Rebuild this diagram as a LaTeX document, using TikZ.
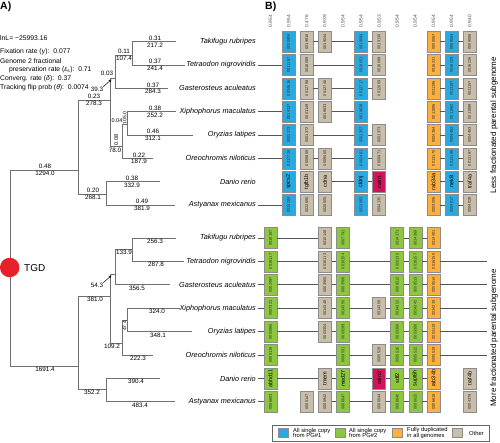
\documentclass[tikz,border=0pt]{standalone}
\usepackage{fontspec}
\setmainfont{Liberation Sans}
\usetikzlibrary{arrows.meta}
\definecolor{gblue}{HTML}{29A9E0}
\definecolor{ggreen}{HTML}{8DC63F}
\definecolor{gorange}{HTML}{FBB040}
\definecolor{gtan}{HTML}{C8BEA9}
\definecolor{gred}{HTML}{D0145A}
\definecolor{tline}{HTML}{707070}
\definecolor{cline}{HTML}{555555}
\definecolor{tgdred}{HTML}{E8202A}
\newcommand\myfs[1]{\fontsize{#1}{#1}\selectfont}
\newcommand\gbx[5]{\node[#4] (#1) at ({270.5+18.1*#2},#3) {#5};}
\begin{document}
\begin{tikzpicture}[x=1pt,y=-1pt,
  tree/.style={draw=tline, line width=0.8pt},
  rate/.style={anchor=south, inner sep=0.9pt, font=\myfs{6.3}},
  len/.style={anchor=north, inner sep=0.9pt, font=\myfs{6.3}},
  stat/.style={anchor=west, inner sep=0pt, font=\myfs{6.8}},
  gbox/.style={draw=black!45, line width=0.5pt, rotate=90, minimum width=21pt, minimum height=13pt, inner sep=0pt, font=\myfs{4}, text=black!80},
  boxB/.style={gbox, fill=gblue},
  boxG/.style={gbox, fill=ggreen},
  boxO/.style={gbox, fill=gorange},
  boxT/.style={gbox, fill=gtan},
  boxR/.style={gbox, fill=gred},
  gname/.style={font=\myfs{5.5}, text=black},
  link/.style={draw=cline, line width=0.8pt},
  sp/.style={font=\myfs{7.3}\itshape, anchor=east, inner sep=2pt},
  hdr/.style={rotate=90, font=\myfs{4.8}, text=black!70, inner sep=0pt},
  leg/.style={anchor=west, align=left, inner sep=0pt, font=\myfs{5.8}}
]
\useasboundingbox (0,0) rectangle (500,442);

% ---------- panel A header ----------
\node[font=\myfs{10.5}\bfseries, anchor=north west, inner sep=0pt] (pa) at (0,1.5) {A)};
\node[stat] (s1) at (0,38) {lnL= −25993.16};
\node[stat] (s2) at (0,52) {Fixation rate (\textit{γ}):\ \ 0.077};
\node[stat] (s3) at (0,61) {Genome 2 fractional};
\node[stat] (s4) at (9,70) {preservation rate (\textit{ε}\textsubscript{s}):\ \ 0.71};
\node[stat] (s5) at (0,79) {Converg. rate (\textit{δ}):\ \ 0.37};
\node[stat] (s6) at (0,88) {Tracking flip prob (\textit{θ}):\ \ 0.0074};

% ---------- tree coordinates ----------
\coordinate (R) at (10.7,268);
\coordinate (A) at (78,170);
\coordinate (C) at (110,100);
\coordinate (D) at (115,78);
\coordinate (F) at (132,55);
\coordinate (E) at (122,146.5);
\coordinate (G) at (127,124);
\coordinate (B) at (106,194);
\coordinate (tTaki) at (176,41.7);
\coordinate (tTetr) at (185,65);
\coordinate (tGast) at (168,88.3);
\coordinate (tXiph) at (176,111.7);
\coordinate (tOryz) at (193,135);
\coordinate (tOreo) at (153,158.3);
\coordinate (tDani) at (160,181.7);
\coordinate (tAsty) at (175,205);
\coordinate (H) at (78,366);
\coordinate (I) at (110,296);
\coordinate (J) at (115,274);
\coordinate (M) at (132,249);
\coordinate (K) at (122,343);
\coordinate (L) at (127,320);
\coordinate (N) at (106,389);
\coordinate (bTaki) at (176,238);
\coordinate (bTetr) at (184,261.4);
\coordinate (bGast) at (170,284.8);
\coordinate (bXiph) at (180,308.2);
\coordinate (bOryz) at (192,331.6);
\coordinate (bOreo) at (153,355);
\coordinate (bDani) at (160,378.4);
\coordinate (bAsty) at (175,401.8);

\draw[tree] (R) |- (A);
\draw[tree] (A) |- (C);  \draw[tree] (A) |- (B);
\draw[tree] (C) |- (D);  \draw[tree] (C) |- (E);
\draw[tree] (D) |- (F);  \draw[tree] (D) |- (tGast);
\draw[tree] (F) |- (tTaki); \draw[tree] (F) |- (tTetr);
\draw[tree] (E) |- (G);  \draw[tree] (E) |- (tOreo);
\draw[tree] (G) |- (tXiph); \draw[tree] (G) |- (tOryz);
\draw[tree] (B) |- (tDani); \draw[tree] (B) |- (tAsty);
\draw[tree] (R) |- (H);
\draw[tree] (H) |- (I);  \draw[tree] (H) |- (N);
\draw[tree] (I) |- (J);  \draw[tree] (I) |- (K);
\draw[tree] (J) |- (M);  \draw[tree] (J) |- (bGast);
\draw[tree] (M) |- (bTaki); \draw[tree] (M) |- (bTetr);
\draw[tree] (K) |- (L);  \draw[tree] (K) |- (bOreo);
\draw[tree] (L) |- (bXiph); \draw[tree] (L) |- (bOryz);
\draw[tree] (N) |- (bDani); \draw[tree] (N) |- (bAsty);

% ---------- tree labels (top) ----------
\node[rate] (r1) at (45,170) {0.48};   \node[len] (l1) at (45,170) {1294.0};
\node[rate] (r2) at (94,100) {0.23};   \node[len] (l2) at (94,100) {278.3};
\node[rate] (r3) at (124,55) {0.11};   \node[len] (l3) at (124,55) {107.4};
\node[rate] (r4) at (155,41.7) {0.31}; \node[len] (l4) at (155,41.7) {217.2};
\node[rate] (r5) at (155,65) {0.37};   \node[len] (l5) at (155,65) {241.4};
\node[rate] (r6) at (153,88.3) {0.37}; \node[len] (l6) at (153,88.3) {284.3};
\node[rate] (r7) at (155,111.7) {0.38};\node[len] (l7) at (155,111.7) {252.2};
\node[rate] (r8) at (153,135) {0.46};  \node[len] (l8) at (153,135) {312.1};
\node[rate] (r9) at (139,158.3) {0.22};\node[len] (l9) at (139,158.3) {187.9};
\node[rate] (r10) at (93,194) {0.20};  \node[len] (l10) at (93,194) {268.1};
\node[rate] (r11) at (132,181.7) {0.38};\node[len] (l11) at (132,181.7) {332.9};
\node[rate] (r12) at (142,205) {0.49}; \node[len] (l12) at (142,205) {381.9};
\node[len] (l13) at (115,146.5) {78.0};
\node[font=\myfs{5.5}, rotate=90, inner sep=0pt] (r13) at (116.2,140) {0.08};
\node[font=\myfs{5.5}, inner sep=0pt] (r14) at (117,120.5) {0.04};
\node[font=\myfs{5}, inner sep=0pt, rotate=90] (l14) at (124.6,118) {105.0};
\node[font=\myfs{6.3}, inner sep=0pt] (r15) at (107,73) {0.03};
\node[font=\myfs{6.3}, inner sep=0pt] (l15) at (97,89) {39.3};
\coordinate (arC) at (111.5,79.5);
\draw[-{Stealth[length=3pt,width=2.6pt]}, line width=0.5pt] (l15.north east) -- (arC);

% ---------- tree labels (bottom) ----------
\node[len] (m1) at (45,366) {1691.4};
\node[len] (m2) at (95,296) {381.0};
\node[len] (m3) at (124,249) {133.9};
\node[len] (m4) at (155,238) {256.3};
\node[len] (m5) at (156,261.4) {287.8};
\node[len] (m6) at (137,284.8) {356.5};
\node[len] (m7) at (112,343) {109.2};
\node[len] (m8) at (157,308.2) {324.0};
\node[len] (m9) at (158,331.6) {348.1};
\node[len] (m10) at (138,355) {222.3};
\node[len] (m11) at (92,389) {352.2};
\node[len] (m12) at (136,378.4) {390.4};
\node[len] (m13) at (140,401.8) {483.4};
\node[font=\myfs{5}, inner sep=0pt, rotate=90] (m14) at (124.6,326) {47.4};
\node[font=\myfs{6.3}, inner sep=0pt] (m15) at (97,285) {54.3};
\coordinate (arJ) at (111.5,275.5);
\draw[-{Stealth[length=3pt,width=2.6pt]}, line width=0.5pt] (m15.north east) -- (arJ);

% ---------- TGD ----------
\node[circle, fill=tgdred, minimum size=19.5pt, inner sep=0pt] (tgd) at (9.7,267.5) {};
\node[font=\myfs{10}, anchor=west, inner sep=0pt] (tgdl) at (24,268) {TGD};

% ---------- panel B ----------
\node[font=\myfs{10.5}\bfseries, anchor=north west, inner sep=0pt] (pb) at (265,1.5) {B)};
\foreach \v [count=\i from 0] in {0.954,0.954,0.476,0.939,0.954,0.954,0.953,0.954,0.954,0.954,0.954,0.940}
  \node[hdr] (h\i) at ({270.5+18.1*\i},21) {\v};

% species labels
\node[sp] (st1) at (258,41.7) {Takifugu rubripes};
\node[sp] (st2) at (258,65) {Tetraodon nigroviridis};
\node[sp] (st3) at (258,88.3) {Gasterosteus aculeatus};
\node[sp] (st4) at (258,111.7) {Xiphophorus maculatus};
\node[sp] (st5) at (258,135) {Oryzias latipes};
\node[sp] (st6) at (258,158.3) {Oreochromis niloticus};
\node[sp] (st7) at (258,181.7) {Danio rerio};
\node[sp] (st8) at (258,205) {Astyanax mexicanus};
\node[sp] (sb1) at (258,238) {Takifugu rubripes};
\node[sp] (sb2) at (258,261.4) {Tetraodon nigroviridis};
\node[sp] (sb3) at (258,284.8) {Gasterosteus aculeatus};
\node[sp] (sb4) at (258,308.2) {Xiphophorus maculatus};
\node[sp] (sb5) at (258,331.6) {Oryzias latipes};
\node[sp] (sb6) at (258,355) {Oreochromis niloticus};
\node[sp] (sb7) at (258,378.4) {Danio rerio};
\node[sp] (sb8) at (258,401.8) {Astyanax mexicanus};

% top panel boxes
\gbx{t1c1}{1}{41.7}{boxB}{0000804}
\gbx{t1c2}{2}{41.7}{boxT}{0019816}
\gbx{t1c3}{3}{41.7}{boxT}{0019044}
\gbx{t1c5}{5}{41.7}{boxB}{0019094}
\gbx{t1c6}{6}{41.7}{boxT}{0019130}
\gbx{t1c9}{9}{41.7}{boxO}{0008067}
\gbx{t1c10}{10}{41.7}{boxB}{0008063}
\gbx{t1c11}{11}{41.7}{boxT}{0008086}

\gbx{t2c1}{1}{65}{boxB}{0011167}
\gbx{t2c2}{2}{65}{boxT}{0018089}
\gbx{t2c5}{5}{65}{boxB}{0018051}
\gbx{t2c6}{6}{65}{boxT}{0018088}
\gbx{t2c9}{9}{65}{boxO}{0016231}
\gbx{t2c10}{10}{65}{boxB}{0016229}
\gbx{t2c11}{11}{65}{boxT}{0016226}

\gbx{t3c1}{1}{88.3}{boxB}{0004616}
\gbx{t3c2}{2}{88.3}{boxT}{0012798}
\gbx{t3c3}{3}{88.3}{boxT}{0012740}
\gbx{t3c5}{5}{88.3}{boxB}{0012717}
\gbx{t3c6}{6}{88.3}{boxT}{0012669}
\gbx{t3c9}{9}{88.3}{boxO}{0011196}
\gbx{t3c10}{10}{88.3}{boxB}{0011187}
\gbx{t3c11}{11}{88.3}{boxT}{0011157}

\gbx{t4c1}{1}{111.7}{boxB}{0014237}
\gbx{t4c2}{2}{111.7}{boxT}{0001149}
\gbx{t4c3}{3}{111.7}{boxT}{0018633}
\gbx{t4c5}{5}{111.7}{boxB}{0018639}
\gbx{t4c9}{9}{111.7}{boxO}{0011886}
\gbx{t4c10}{10}{111.7}{boxB}{0011882}
\gbx{t4c11}{11}{111.7}{boxT}{0011888}

\gbx{t5c1}{1}{135}{boxB}{0002173}
\gbx{t5c2}{2}{135}{boxT}{0001372}
\gbx{t5c5}{5}{135}{boxB}{0001357}
\gbx{t5c6}{6}{135}{boxT}{0001373}
\gbx{t5c9}{9}{135}{boxO}{0004364}
\gbx{t5c10}{10}{135}{boxB}{0004462}
\gbx{t5c11}{11}{135}{boxT}{0004463}

\gbx{t6c1}{1}{158.3}{boxB}{0017726}
\gbx{t6c2}{2}{158.3}{boxT}{0008869}
\gbx{t6c3}{3}{158.3}{boxT}{0009465}
\gbx{t6c5}{5}{158.3}{boxB}{0002461}
\gbx{t6c6}{6}{158.3}{boxT}{0000971}
\gbx{t6c9}{9}{158.3}{boxO}{0013175}
\gbx{t6c10}{10}{158.3}{boxB}{0013188}
\gbx{t6c11}{11}{158.3}{boxT}{0013187}

\gbx{t7c1}{1}{181.7}{boxB,gname}{spcs2}
\gbx{t7c2}{2}{181.7}{boxT,gname}{tgfb1b}
\gbx{t7c3}{3}{181.7}{boxT,gname}{cdna}
\gbx{t7c5}{5}{181.7}{boxB,gname}{cldnj}
\gbx{t7c6}{6}{181.7}{boxR,gname}{caln1}
\gbx{t7c9}{9}{181.7}{boxO,gname}{rab34a}
\gbx{t7c10}{10}{181.7}{boxB,gname}{nek8}
\gbx{t7c11}{11}{181.7}{boxT,gname}{traf4a}

\gbx{t8c1}{1}{205}{boxB}{0015208}
\gbx{t8c2}{2}{205}{boxT}{0022680}
\gbx{t8c3}{3}{205}{boxT}{0020005}
\gbx{t8c5}{5}{205}{boxB}{0023883}
\gbx{t8c6}{6}{205}{boxT}{0004135}
\gbx{t8c9}{9}{205}{boxO}{0004006}
\gbx{t8c10}{10}{205}{boxB}{0004017}
\gbx{t8c11}{11}{205}{boxT}{0004028}

% top panel links
\draw[link] (t1c2) -- (t1c3); \draw[link] (t1c3) -- (t1c5); \draw[link] (t1c5) -- (t1c6);
\draw[link] (t1c9) -- (t1c10); \draw[link] (t1c10) -- (t1c11);
\draw[link] (st2) -- (t2c1); \draw[link] (t2c2) -- (t2c5); \draw[link] (t2c5) -- (t2c6);
\draw[link] (t2c9) -- (t2c10); \draw[link] (t2c10) -- (t2c11);
\draw[link] (t3c2) -- (t3c3); \draw[link] (t3c3) -- (t3c5); \draw[link] (t3c5) -- (t3c6);
\draw[link] (t3c9) -- (t3c10); \draw[link] (t3c10) -- (t3c11);
\draw[link] (st4) -- (t4c1); \draw[link] (t4c3) -- (t4c5);
\draw[link] (t4c9) -- (t4c10); \draw[link] (t4c10) -- (t4c11);
\draw[link] (st5) -- (t5c1); \draw[link] (t5c2) -- (t5c5); \draw[link] (t5c5) -- (t5c6);
\draw[link] (t5c9) -- (t5c10); \draw[link] (t5c10) -- (t5c11);
\draw[link] (st6) -- (t6c1); \draw[link] (t6c2) -- (t6c3); \draw[link] (t6c3) -- (t6c5); \draw[link] (t6c5) -- (t6c6);
\draw[link] (t6c9) -- (t6c10); \draw[link] (t6c10) -- (t6c11);
\draw[link] (t7c3) -- (t7c5); \draw[link] (t7c5) -- (t7c6);
\draw[link] (t7c9) -- (t7c10); \draw[link] (t7c10) -- (t7c11);
\draw[link] (st8) -- (t8c1);
\draw[link] (t8c9) -- (t8c10); \draw[link] (t8c10) -- (t8c11);

% bottom panel boxes
\gbx{b1c0}{0}{238}{boxG}{0018167}
\gbx{b1c3}{3}{238}{boxT}{0010148}
\gbx{b1c4}{4}{238}{boxG}{0007791}
\gbx{b1c7}{7}{238}{boxG}{0014371}
\gbx{b1c8}{8}{238}{boxG}{0014369}
\gbx{b1c9}{9}{238}{boxO}{0014401}

\gbx{b2c0}{0}{261.4}{boxG}{0016117}
\gbx{b2c3}{3}{261.4}{boxT}{0016113}
\gbx{b2c4}{4}{261.4}{boxG}{0016154}
\gbx{b2c7}{7}{261.4}{boxG}{0000130}
\gbx{b2c8}{8}{261.4}{boxG}{0016157}
\gbx{b2c9}{9}{261.4}{boxO}{0016158}

\gbx{b3c0}{0}{284.8}{boxG}{0002487}
\gbx{b3c3}{3}{284.8}{boxT}{0003565}
\gbx{b3c4}{4}{284.8}{boxG}{0003566}
\gbx{b3c7}{7}{284.8}{boxG}{0008512}
\gbx{b3c8}{8}{284.8}{boxG}{0008513}
\gbx{b3c9}{9}{284.8}{boxO}{0008514}

\gbx{b4c0}{0}{308.2}{boxG}{0007321}
\gbx{b4c3}{3}{308.2}{boxT}{0014348}
\gbx{b4c4}{4}{308.2}{boxG}{0014350}
\gbx{b4c6}{6}{308.2}{boxT}{0014358}
\gbx{b4c7}{7}{308.2}{boxG}{0014352}
\gbx{b4c8}{8}{308.2}{boxG}{0014342}
\gbx{b4c9}{9}{308.2}{boxO}{0014339}

\gbx{b5c0}{0}{331.6}{boxG}{0003965}
\gbx{b5c3}{3}{331.6}{boxT}{0003304}
\gbx{b5c4}{4}{331.6}{boxG}{0003289}
\gbx{b5c7}{7}{331.6}{boxG}{0003308}
\gbx{b5c8}{8}{331.6}{boxG}{0003306}
\gbx{b5c9}{9}{331.6}{boxO}{0003119}

\gbx{b6c0}{0}{355}{boxG}{0008116}
\gbx{b6c4}{4}{355}{boxG}{0009551}
\gbx{b6c6}{6}{355}{boxT}{0005528}
\gbx{b6c7}{7}{355}{boxG}{0005516}
\gbx{b6c8}{8}{355}{boxG}{0005512}
\gbx{b6c9}{9}{355}{boxO}{0005519}

\gbx{b7c0}{0}{378.4}{boxG,gname}{abhd11}
\gbx{b7c3}{3}{378.4}{boxT,gname}{tmem}
\gbx{b7c4}{4}{378.4}{boxG,gname}{med27}
\gbx{b7c6}{6}{378.4}{boxR,gname}{caln2}
\gbx{b7c7}{7}{378.4}{boxG,gname}{sdf2}
\gbx{b7c8}{8}{378.4}{boxG,gname}{supt6h}
\gbx{b7c9}{9}{378.4}{boxO,gname}{rab34b}
\gbx{b7c11}{11}{378.4}{boxT,gname}{traf4b}

\gbx{b8c0}{0}{401.8}{boxG}{0006603}
\gbx{b8c2}{2}{401.8}{boxT}{0005147}
\gbx{b8c3}{3}{401.8}{boxT}{0005942}
\gbx{b8c4}{4}{401.8}{boxG}{0006647}
\gbx{b8c6}{6}{401.8}{boxT}{0006644}
\gbx{b8c7}{7}{401.8}{boxG}{0006640}
\gbx{b8c8}{8}{401.8}{boxG}{0006625}
\gbx{b8c9}{9}{401.8}{boxO}{0006618}
\gbx{b8c11}{11}{401.8}{boxT}{0004378}

\coordinate (e2) at (487,261.4);
\coordinate (e3) at (487,284.8);
\coordinate (e4) at (487,308.2);
\coordinate (e5) at (487,331.6);
\coordinate (e6) at (487,355);

% bottom panel links
\draw[link] (sb1) -- (b1c0); \draw[link] (b1c0) -- (b1c3);
\draw[link] (b1c7) -- (b1c8); \draw[link] (b1c8) -- (b1c9);
\draw[link] (sb2) -- (b2c0); \draw[link] (b2c0) -- (b2c3); \draw[link] (b2c3) -- (b2c4); \draw[link] (b2c4) -- (b2c7);
\draw[link] (b2c7) -- (b2c8); \draw[link] (b2c8) -- (b2c9); \draw[link] (b2c9) -- (e2);
\draw[link] (sb3) -- (b3c0); \draw[link] (b3c0) -- (b3c3); \draw[link] (b3c3) -- (b3c4); \draw[link] (b3c4) -- (b3c7);
\draw[link] (b3c7) -- (b3c8); \draw[link] (b3c8) -- (b3c9); \draw[link] (b3c9) -- (e3);
\draw[link] (sb4) -- (b4c0); \draw[link] (b4c0) -- (b4c3); \draw[link] (b4c3) -- (b4c4); \draw[link] (b4c4) -- (b4c6);
\draw[link] (b4c6) -- (b4c7); \draw[link] (b4c7) -- (b4c8); \draw[link] (b4c8) -- (b4c9); \draw[link] (b4c9) -- (e4);
\draw[link] (sb5) -- (b5c0); \draw[link] (b5c0) -- (b5c3); \draw[link] (b5c3) -- (b5c4); \draw[link] (b5c4) -- (b5c7);
\draw[link] (b5c7) -- (b5c8); \draw[link] (b5c8) -- (b5c9); \draw[link] (b5c9) -- (e5);
\draw[link] (sb6) -- (b6c0); \draw[link] (b6c0) -- (b6c4); \draw[link] (b6c4) -- (b6c6);
\draw[link] (b6c6) -- (b6c7); \draw[link] (b6c7) -- (b6c8); \draw[link] (b6c8) -- (b6c9); \draw[link] (b6c9) -- (e6);
\draw[link] (sb7) -- (b7c0); \draw[link] (b7c0) -- (b7c3); \draw[link] (b7c3) -- (b7c4); \draw[link] (b7c4) -- (b7c6);
\draw[link] (b7c6) -- (b7c7); \draw[link] (b7c7) -- (b7c8); \draw[link] (b7c8) -- (b7c9);
\draw[link] (sb8) -- (b8c0); \draw[link] (b8c3) -- (b8c4); \draw[link] (b8c4) -- (b8c6);
\draw[link] (b8c6) -- (b8c7); \draw[link] (b8c7) -- (b8c8); \draw[link] (b8c8) -- (b8c9);

% side labels
\node[rotate=90, font=\myfs{8}, inner sep=0pt] (less) at (494,125) {Less fractionated parental subgenome};
\node[rotate=90, font=\myfs{8}, inner sep=0pt] (more) at (494,338) {More fractionated parental subgenome};

% legend
\node[draw=black!60, line width=0.5pt, minimum width=217pt, minimum height=16.5pt, inner sep=0pt, anchor=north west] (legbox) at (272,424.5) {};
\node[fill=gblue, draw=black!45, line width=0.4pt, minimum width=10.5pt, minimum height=9pt, inner sep=0pt] (kb) at (283.3,433) {};
\node[leg] (kbt) at (293,433) {All single copy\\from PG\#1};
\node[fill=ggreen, draw=black!45, line width=0.4pt, minimum width=10.5pt, minimum height=9pt, inner sep=0pt] (kg) at (340.3,433) {};
\node[leg] (kgt) at (349,433) {All single copy\\from PG\#2};
\node[fill=gorange, draw=black!45, line width=0.4pt, minimum width=10.5pt, minimum height=9pt, inner sep=0pt] (ko) at (397.3,433) {};
\node[leg] (kot) at (407,433) {Fully duplicated\\in all genomes};
\node[fill=gtan, draw=black!45, line width=0.4pt, minimum width=10.5pt, minimum height=9pt, inner sep=0pt] (kt) at (457.3,433) {};
\node[leg] (ktt) at (469,433) {Other};
\end{tikzpicture}
\end{document}
